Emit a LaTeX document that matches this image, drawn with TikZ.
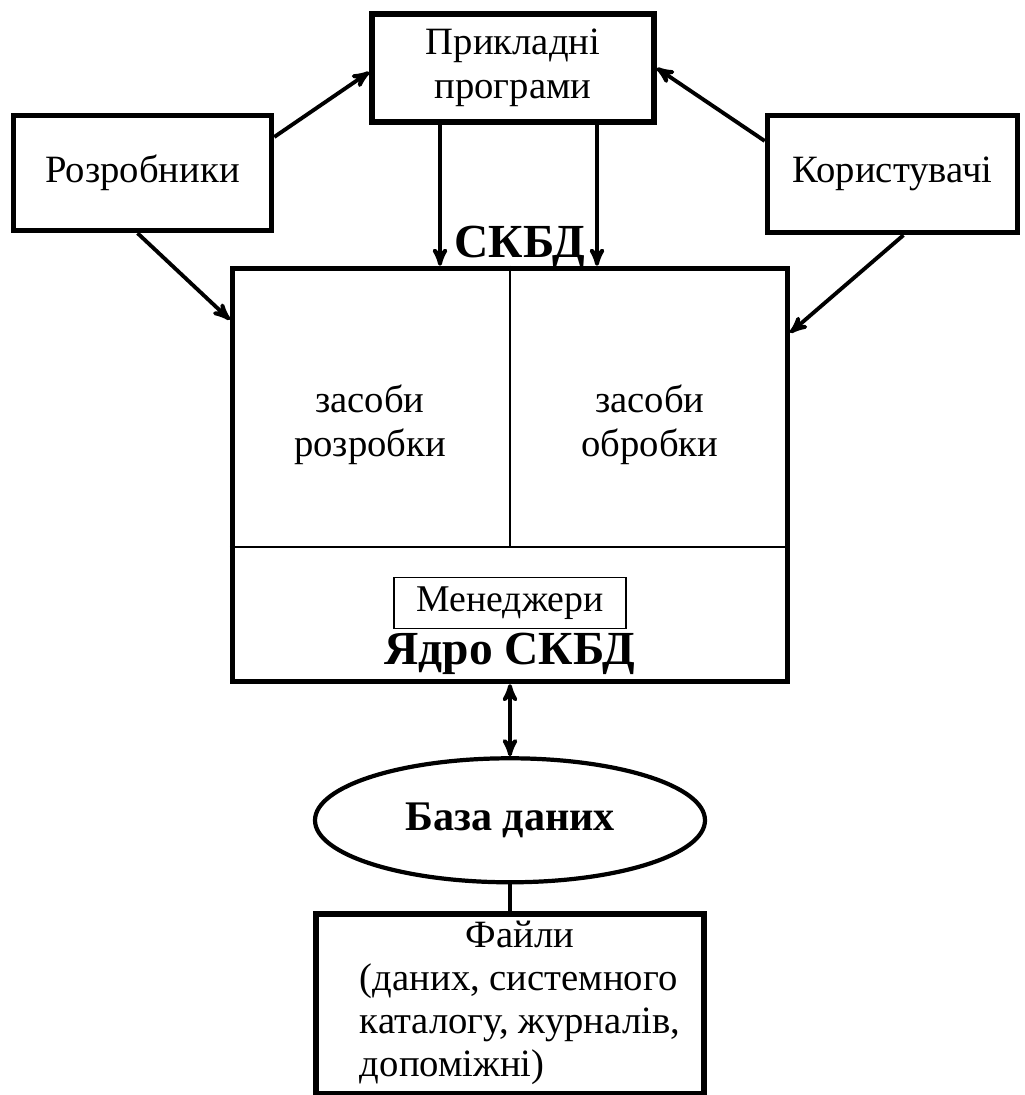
\documentclass[tikz,border=0pt]{standalone}
\usepackage{fontspec}
\setmainfont{Liberation Serif}
\usetikzlibrary{arrows}
\usetikzlibrary{positioning}
\usetikzlibrary{shapes.geometric}

\begin{document}
\begin{tikzpicture}[>=stealth',
  box node/.style={rectangle,draw,line width=3.1pt,align=center,font=\fontsize{22}{25}\selectfont},
  text node/.style={align=center,font=\fontsize{22}{25}\selectfont},
  title node/.style={font=\fontsize{27}{32}\selectfont\bfseries},
  small box/.style={rectangle,draw,line width=0.9pt,font=\fontsize{21.5}{25}\selectfont,minimum width=4.65cm,minimum height=1.02cm},
  thin line/.style={line width=1.1pt},
  link/.style={->,line width=2.2pt}]

  \useasboundingbox (0,0) rectangle (20.5,-21.9);

  \node[box node,minimum width=5.64cm,minimum height=2.16cm] (Prikl) at (10.26,-1.36) {Прикладні\\програми};
  \node[box node,minimum width=5.16cm,minimum height=2.3cm] (Rozr) [below left = -0.24 and 1.9 of Prikl] {Розробники};
  \node[box node,minimum width=5.0cm,minimum height=2.34cm] (Koryst) [below right = -0.24 and 2.16 of Prikl] {Користувачі};
  \node[box node,minimum width=11.1cm,minimum height=8.26cm] (SKBD) [below = 2.82 of Prikl,xshift=-0.06cm] {};
  \node[ellipse,draw,line width=2.4pt,minimum width=7.8cm,minimum height=2.48cm,
        font=\fontsize{24}{28}\selectfont\bfseries] (DB) [below = 1.44 of SKBD] {База даних};
  \node[box node,minimum width=7.76cm,minimum height=3.6cm,anchor=north] (Files) [below = 0.54 of DB] {};

  % parts of the DBMS box
  \coordinate (split) at ([yshift=-5.62cm]SKBD.north);
  \draw[thin line] (SKBD.west |- split) -- (SKBD.east |- split);
  \draw[thin line] (SKBD.north) -- (split);
  \node[text node] (Dev) at ([xshift=-2.8cm,yshift=-3.18cm]SKBD.north) {засоби\\розробки};
  \node[text node] (Proc) at ([xshift=2.8cm,yshift=-3.18cm]SKBD.north) {засоби\\обробки};
  \node[small box] (Men) at ([yshift=1.62cm]SKBD.south) {Менеджери};
  \node[title node] (Core) at ([yshift=0.6cm]SKBD.south) {Ядро СКБД};
  \node[title node,anchor=base] (Title) at ([yshift=0.16cm,xshift=0.2cm]SKBD.north) {СКБД};

  \node[inner sep=0pt,anchor=base,font=\fontsize{22}{24.5}\selectfont] (FilesText)
    at ([yshift=-0.72cm,xshift=0.2cm]Files.north)
    {\begin{tabular}[t]{@{}l@{}}\multicolumn{1}{@{}c@{}}{Файли}\\(даних, системного\\каталогу, журналів,\\допоміжні)\end{tabular}};

  \coordinate (inL) at ([xshift=-1.46cm]Prikl.south);
  \coordinate (inR) at ([xshift=1.68cm]Prikl.south);

  \path[link]
    ([yshift=0.72cm]Rozr.east) edge ([yshift=-0.08cm]Prikl.west)
    ([xshift=-0.1cm]Rozr.south) edge ([yshift=-1.08cm]SKBD.north west)
    ([yshift=0.66cm]Koryst.west) edge (Prikl.east)
    ([xshift=0.22cm]Koryst.south) edge ([yshift=-1.34cm]SKBD.north east)
    (inL) edge (inL |- SKBD.north)
    (inR) edge (inR |- SKBD.north);
  \draw[<->,line width=2.2pt] (SKBD.south) -- (DB.north);
  \draw[line width=2.6pt] (DB.south) -- (Files.north);

\end{tikzpicture}
\end{document}
